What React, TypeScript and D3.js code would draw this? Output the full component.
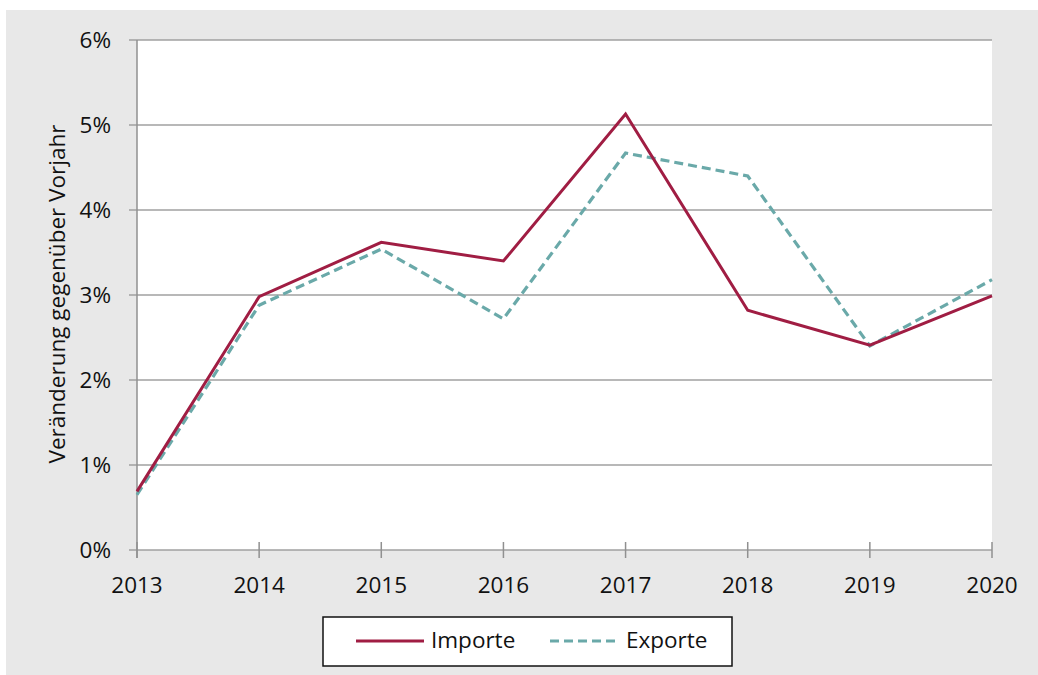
import * as d3 from 'd3';
import React, { useRef, useEffect } from 'react';

const years = [2013, 2014, 2015, 2016, 2017, 2018, 2019, 2020];
const importe = [0.69, 2.98, 3.62, 3.40, 5.13, 2.82, 2.41, 2.99];
const exporte = [0.65, 2.88, 3.54, 2.72, 4.67, 4.40, 2.40, 3.18];
const yTicks = [0, 1, 2, 3, 4, 5, 6];

const W = 1038, H = 675;
const FONT = "'Open Sans', 'Liberation Sans', sans-serif";
const FS = "22.5px";

function App() {
    const ref = useRef<SVGSVGElement>(null);

    useEffect(() => {
        const svg = d3.select(ref.current);
        svg.selectAll("*").remove();

        // grey frame
        svg.append("rect").attr("x", 6).attr("y", 10).attr("width", W - 6).attr("height", H - 10)
            .attr("fill", "#e8e8e8");

        const left = 137, right = 992, top = 40, bottom = 550;

        svg.append("rect").attr("x", left).attr("y", top).attr("width", right - left).attr("height", bottom - top)
            .attr("fill", "white");

        const x = d3.scalePoint<number>().domain(years).range([left, right]);
        const y = d3.scaleLinear().domain([0, 6]).range([bottom, top]);

        // gridlines + y ticks
        const g = svg.append("g");
        g.selectAll("line.grid").data(yTicks).enter().append("line")
            .attr("x1", left - 8).attr("x2", right)
            .attr("y1", d => y(d)).attr("y2", d => y(d))
            .attr("stroke", "#a0a0a0").attr("stroke-width", 1.5);

        g.selectAll("text.ylab").data(yTicks).enter().append("text")
            .attr("x", 111).attr("y", d => y(d) + 8)
            .attr("text-anchor", "end")
            .style("font-family", FONT).style("font-size", FS).attr("fill", "#111")
            .text(d => d + "%");

        // y axis line
        g.append("line").attr("x1", left).attr("x2", left).attr("y1", top).attr("y2", bottom + 8)
            .attr("stroke", "#909090").attr("stroke-width", 1.5);

        // x ticks
        g.selectAll("line.xt").data(years).enter().append("line")
            .attr("x1", d => x(d)!).attr("x2", d => x(d)!)
            .attr("y1", bottom - 8).attr("y2", bottom + 8)
            .attr("stroke", "#909090").attr("stroke-width", 1.5);

        g.selectAll("text.xlab").data(years).enter().append("text")
            .attr("x", d => x(d)!).attr("y", 593)
            .attr("text-anchor", "middle")
            .style("font-family", FONT).style("font-size", FS).attr("fill", "#111")
            .text(d => String(d));

        // y title
        g.append("text")
            .attr("transform", "translate(65,294) rotate(-90)")
            .attr("text-anchor", "middle")
            .style("font-family", FONT).style("font-size", FS).attr("fill", "#111")
            .text("Veränderung gegenüber Vorjahr");

        const line = d3.line<number>()
            .x((d, i) => x(years[i])!)
            .y(d => y(d));

        svg.append("path").datum(exporte).attr("d", line)
            .attr("fill", "none").attr("stroke", "#6aa9a9").attr("stroke-width", 3.2)
            .attr("stroke-dasharray", "9,5");
        svg.append("path").datum(importe).attr("d", line)
            .attr("fill", "none").attr("stroke", "#a01d43").attr("stroke-width", 3);

        // legend
        const lg = svg.append("g");
        lg.append("rect").attr("x", 323).attr("y", 617).attr("width", 409).attr("height", 49)
            .attr("fill", "white").attr("stroke", "#111").attr("stroke-width", 1.5);
        lg.append("line").attr("x1", 356).attr("x2", 424).attr("y1", 641).attr("y2", 641)
            .attr("stroke", "#a01d43").attr("stroke-width", 3);
        lg.append("text").attr("x", 431).attr("y", 648)
            .style("font-family", FONT).style("font-size", FS).attr("fill", "#111").text("Importe");
        lg.append("line").attr("x1", 550).attr("x2", 619).attr("y1", 641).attr("y2", 641)
            .attr("stroke", "#6aa9a9").attr("stroke-width", 3.2).attr("stroke-dasharray", "9,5");
        lg.append("text").attr("x", 626).attr("y", 648)
            .style("font-family", FONT).style("font-size", FS).attr("fill", "#111").text("Exporte");
    }, []);

    return (
        <svg ref={ref} width={W} height={H} style={{ position: "absolute", left: 0, top: 0 }}></svg>
    );
}

export default App;
